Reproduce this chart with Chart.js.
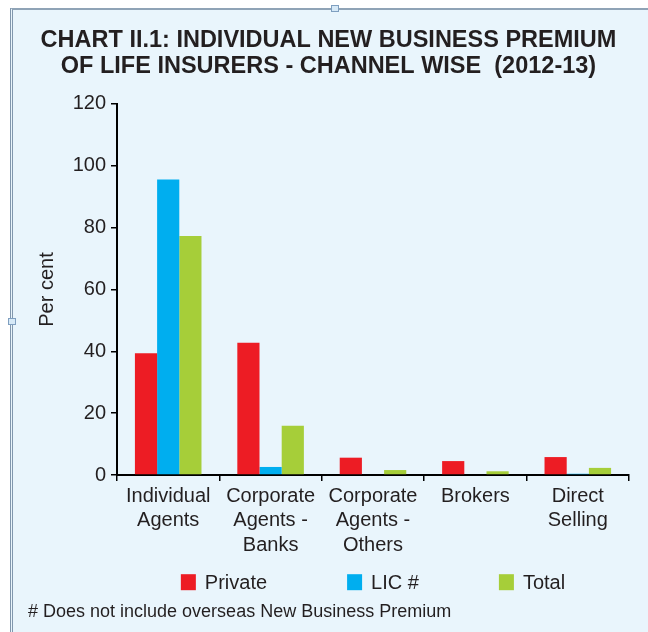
<!DOCTYPE html>
<html lang="en">
  <head>
    <meta charset="UTF-8" />
    <title>Channel wise new business premium</title>
    <script src="https://cdn.jsdelivr.net/npm/chart.js@4.4.0/dist/chart.umd.min.js"></script>
    <style>
      body {
        margin: 0;
        background: #ffffff;
        font-family: "Liberation Sans", Arial, sans-serif;
      }
      .frame {
        position: absolute;
        left: 10px;
        top: 8px;
        width: 635px;
        height: 622px;
        background: #e9f5fc;
        border-left: 3px double #8197ad;
        border-top: 2px solid #8fa3b6;
      }
      .handle {
        position: absolute;
        width: 6px;
        height: 5px;
        background: #d6e9f7;
        border: 1px solid #7f9fc0;
      }
      .chart-box {
        position: relative;
        width: 635px;
        height: 622px;
      }
    </style>
  </head>
  <body>
    <div class="frame">
      <div class="chart-box">
        <canvas id="channelChart"></canvas>
      </div>
    </div>
    <div class="handle" style="left: 331px; top: 5px"></div>
    <div class="handle" style="left: 8px; top: 318px"></div>

    <script>
      // values (per cent of individual new business premium)
      const channels = [
        ["Individual", "Agents"],
        ["Corporate", "Agents -", "Banks"],
        ["Corporate", "Agents -", "Others"],
        "Brokers",
        ["Direct", "Selling"],
      ];
      const privateShare = [39.4, 42.8, 5.6, 4.5, 5.8];
      const licShare = [95.6, 2.6, 0, 0, 0.4];
      const totalShare = [77.3, 15.9, 1.6, 1.2, 2.3];
      const yTicks = [0, 20, 40, 60, 80, 100, 120];

      const ink = "#231f20";
      const font = "'Liberation Sans', Arial, sans-serif";

      // the built-in legend uses one padding for both directions, which is far
      // too tall here, so the widely spaced legend row is drawn by hand
      const spreadLegend = {
        id: "spreadLegend",
        afterDraw(chart, args, opts) {
          const { ctx, chartArea } = chart;
          ctx.save();
          ctx.font = opts.fontSize + "px " + font;
          ctx.textBaseline = "middle";
          ctx.textAlign = "left";
          const items = chart.data.datasets.map((ds) => ({
            text: ds.label,
            color: ds.backgroundColor,
            w: opts.boxSize + opts.gap + ctx.measureText(ds.label).width,
          }));
          const total =
            items.reduce((s, it) => s + it.w, 0) + opts.spacing * (items.length - 1);
          let x = (chartArea.left + chartArea.right - total) / 2;
          const y = chart.scales.x.bottom + opts.offset;
          items.forEach((it) => {
            ctx.fillStyle = it.color;
            ctx.fillRect(x, y - opts.boxSize / 2, opts.boxSize - 1, opts.boxSize);
            ctx.fillStyle = ink;
            ctx.fillText(it.text, x + opts.boxSize + opts.gap, y + 1);
            x += it.w + opts.spacing;
          });
          ctx.restore();
        },
      };

      const ctx = document.getElementById("channelChart").getContext("2d");
      new Chart(ctx, {
        type: "bar",
        data: {
          labels: channels,
          datasets: [
            { label: "Private", data: privateShare, backgroundColor: "#ed1c24" },
            { label: "LIC #", data: licShare, backgroundColor: "#00aeef" },
            { label: "Total", data: totalShare, backgroundColor: "#a6ce39" },
          ],
        },
        plugins: [spreadLegend],
        options: {
          responsive: true,
          maintainAspectRatio: false,
          animation: false,
          layout: { padding: { left: 15, right: 19, top: 0, bottom: 0 } },
          datasets: {
            bar: { categoryPercentage: 0.65, barPercentage: 1, borderWidth: 0 },
          },
          plugins: {
            tooltip: { enabled: false },
            legend: { display: false },
            spreadLegend: { fontSize: 20, boxSize: 16, gap: 8, spacing: 80, offset: 22 },
            title: {
              display: true,
              text: [
                "CHART II.1: INDIVIDUAL NEW BUSINESS PREMIUM",
                "OF LIFE INSURERS - CHANNEL WISE  (2012-13)",
              ],
              color: ink,
              font: { family: font, size: 23.5, weight: "bold", lineHeight: 1.106 },
              padding: { top: 18, bottom: 24 },
            },
            subtitle: {
              display: true,
              position: "bottom",
              align: "start",
              text: "# Does not include overseas New Business Premium",
              color: ink,
              font: { family: font, size: 18, lineHeight: 1.1 },
              // room above the footnote is where the legend row goes
              padding: { top: 42, bottom: 10 },
            },
          },
          scales: {
            x: {
              border: { color: "#000", width: 2 },
              grid: {
                drawOnChartArea: false,
                color: "#000",
                lineWidth: 1.5,
                tickLength: 6,
              },
              ticks: {
                color: ink,
                font: { family: font, size: 20, lineHeight: 1.22 },
                padding: 3,
                maxRotation: 0,
                autoSkip: false,
              },
            },
            y: {
              min: 0,
              max: 120,
              afterBuildTicks: (scale) => {
                scale.ticks = yTicks.map((v) => ({ value: v }));
              },
              border: { color: "#000", width: 2 },
              grid: {
                drawOnChartArea: false,
                color: "#000",
                lineWidth: 1.5,
                tickLength: 6,
              },
              ticks: {
                color: ink,
                font: { family: font, size: 20 },
                padding: 5,
              },
              title: {
                display: true,
                text: "Per cent",
                color: ink,
                font: { family: font, size: 20, lineHeight: 1.2 },
                padding: { top: 7, bottom: 0 },
              },
              afterFit: (scale) => {
                scale.width = 89;
              },
            },
          },
        },
      });
    </script>
  </body>
</html>
